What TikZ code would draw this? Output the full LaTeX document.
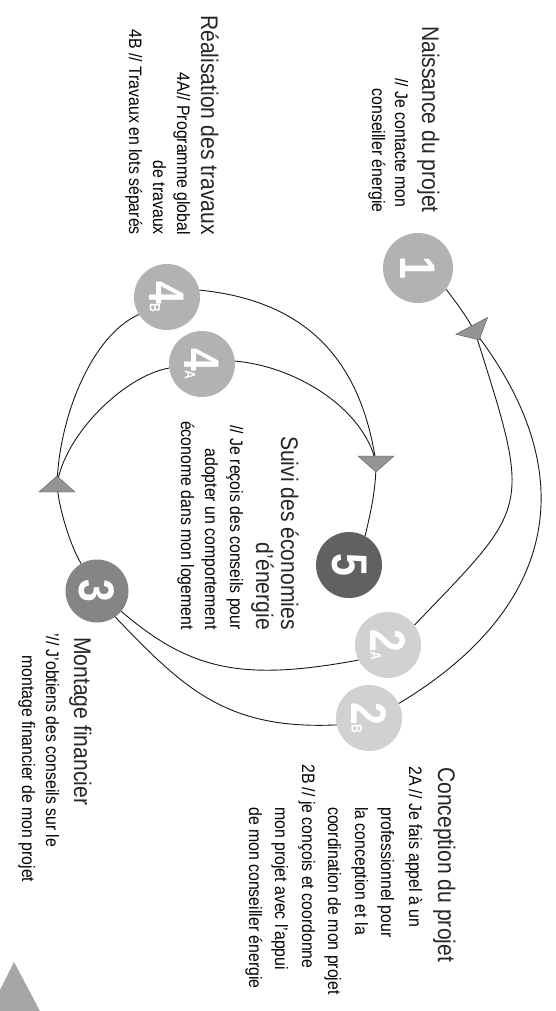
\documentclass[tikz,border=0pt]{standalone}
\usepackage{fontspec}
\usepackage{graphicx}
\setmainfont{Liberation Sans}[FakeStretch=0.88]
\newfontfamily\badgefont{Liberation Sans}[FakeStretch=0.82]
\usetikzlibrary{calc}
\newcommand\titlesize{\fontsize{24}{28}\selectfont}
\newcommand\bodysize{\fontsize{18}{22}\selectfont}
\newcommand\badgetxt[2]{\rotatebox{-90}{\badgefont\bfseries\fontsize{50}{50}\selectfont #1\fontsize{15}{15}\selectfont #2}}
\newcommand\arrowtri[2]{\fill[tri] ($(#1)+({#2}:9)$) -- ($(#1)+({#2+90}:18)+({#2}:-7)$) -- ($(#1)+({#2-90}:18)+({#2}:-7)$) -- cycle;}
\begin{document}
\begin{tikzpicture}[x=1pt,y=-1pt,
  badge/.style={circle, inner sep=0pt, minimum size=66pt, text=white},
  ttl/.style={rotate=-90, inner sep=0pt, font=\titlesize, text=black!85},
  txt/.style={rotate=-90, inner sep=0pt, font=\bodysize, text=black},
  conn/.style={line width=0.9pt, black!90},
  tri/.style={fill=black!42, draw=black!65, line width=0.4pt},
  decor/.style={fill=black!35}]
\useasboundingbox[fill=white] (0,0) rectangle (556,1011);

% badges
\node[badge, fill=black!30, minimum size=70pt] (c1) at (418,268) {\badgetxt{1}{}};
\node[badge, fill=black!30] (c4B) at (167,297) {\badgetxt{4}{B}};
\node[badge, fill=black!30] (c4A) at (202,364) {\badgetxt{4}{A}};
\node[badge, fill=black!62] (c5) at (349,565) {\badgetxt{5}{}};
\node[badge, fill=black!48, minimum size=63pt] (c3) at (97,591) {\badgetxt{3}{}};
\node[badge, fill=black!18] (c2A) at (388,645) {\badgetxt{2}{A}};
\node[badge, fill=black!18] (c2B) at (369,718) {\badgetxt{2}{B}};

% arrowhead junctions
\coordinate (tA) at (475,332);
\coordinate (tB) at (376,463);
\coordinate (tC) at (57,485);

% connectors
\draw[conn] (c1.-37) .. controls +(12,16) and +(-10,-18) .. (tA);
\draw[conn] (tA) .. controls +(57,180) and +(117,-122) .. (c2A.37);
\draw[conn] (tA) .. controls +(115,150) and +(150,-90) .. (c2B.26);
\draw[conn] (c3.-40) .. controls +(68,58) and +(-118,22) .. (c2A.207);
\draw[conn] (c3.-55) .. controls +(69,72) and +(-110,5) .. (c2B.192);
\draw[conn] (c3.120) .. controls +(-10,-16) and +(2,25) .. (tC);
\draw[conn] (tC) .. controls +(2,-70) and +(-46,20) .. (c4B.212);
\draw[conn] (tC) .. controls +(7,-50) and +(-45,8) .. (c4A.187);
\draw[conn] (c4B.12) .. controls +(100,10) and +(-16,-110) .. (tB);
\draw[conn] (c4A.5) .. controls +(60,5) and +(-12,-55) .. (tB);
\draw[conn] (tB) .. controls +(0,25) and +(6,-25) .. (c5.61);

\arrowtri{tA}{62}
\arrowtri{tB}{90}
\arrowtri{tC}{-90}

% page corner mark
\fill[decor] (0,990) -- (14,962) -- (40,1011) -- (0,1011) -- cycle;

% Naissance du projet
\node[ttl, anchor=base east] (naissT) at (422,213) {Naissance du projet};
\node[txt, anchor=base west] (naiss1) at (395,78) {// Je contacte mon};
\node[txt, anchor=base east] (naiss2) at (372,213) {conseiller énergie};

% Realisation des travaux
\node[ttl, anchor=base east] (realT) at (201,235) {Réalisation des travaux};
\node[txt, anchor=base east] (real1) at (177,235) {4A// Programme global};
\node[txt, anchor=base east] (real2) at (153,235) {de travaux};
\node[txt, anchor=base east] (real3) at (129,235) {4B // Travaux en lots séparés};

% Suivi des economies
\node[ttl, anchor=base east] (suiviT1) at (281,630) {Suivi des économies};
\node[ttl, anchor=base east] (suiviT2) at (256,630) {d’énergie};
\node[txt, anchor=base east] (suivi1) at (230,630) {// Je reçois des conseils pour};
\node[txt, anchor=base east] (suivi2) at (205,630) {adopter un comportement};
\node[txt, anchor=base east] (suivi3) at (181,630) {économe dans mon logement};

% Montage financier
\node[ttl, anchor=base west] (montT) at (74,637) {Montage financier};
\node[txt, anchor=base west] (mont1) at (46,633) {’// J’obtiens des conseils sur le};
\node[txt, anchor=base west] (mont2) at (22,655) {montage financier de mon projet};

% Conception du projet
\node[ttl, anchor=base west] (concT) at (438,767) {Conception du projet};
\node[txt, anchor=base west] (conc1) at (409,766) {2A // Je fais appel à un};
\node[txt, anchor=base west] (conc2) at (381,807) {professionnel pour};
\node[txt, anchor=base west] (conc3) at (355,807) {la conception et la};
\node[txt, anchor=base west] (conc4) at (328,807) {coordination de mon projet};
\node[txt, anchor=base west] (conc5) at (302,764) {2B // je conçois et coordonne};
\node[txt, anchor=base west] (conc6) at (275,807) {mon projet avec l’appui};
\node[txt, anchor=base west] (conc7) at (249,807) {de mon conseiller énergie};
\end{tikzpicture}
\end{document}
